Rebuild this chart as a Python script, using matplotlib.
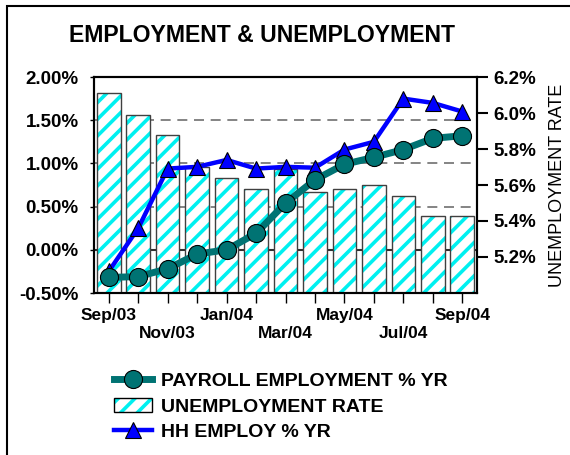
import matplotlib
matplotlib.use('Agg')
import matplotlib.pyplot as plt
import matplotlib.transforms as mtransforms
import numpy as np
from matplotlib.patches import Rectangle

plt.rcParams['font.family'] = ['Liberation Sans', 'DejaVu Sans']
plt.rcParams['hatch.linewidth'] = 2.6

months = ['Sep/03', 'Oct/03', 'Nov/03', 'Dec/03', 'Jan/04', 'Feb/04', 'Mar/04',
          'Apr/04', 'May/04', 'Jun/04', 'Jul/04', 'Aug/04', 'Sep/04']
payroll = [-0.32, -0.31, -0.22, -0.05, 0.00, 0.19, 0.54, 0.81, 0.99, 1.07, 1.16, 1.29, 1.32]
hh_employ = [-0.25, 0.25, 0.94, 0.96, 1.04, 0.94, 0.96, 0.95, 1.16, 1.25, 1.75, 1.70, 1.60]
unemp_rate = [6.11, 5.99, 5.88, 5.70, 5.64, 5.58, 5.69, 5.56, 5.58, 5.60, 5.54, 5.43, 5.43]
left_ticks = [-0.5, 0.0, 0.5, 1.0, 1.5, 2.0]
right_ticks = [5.2, 5.4, 5.6, 5.8, 6.0, 6.2]

teal = '#007373'
x = np.arange(len(months))

fig = plt.figure(figsize=(5.7, 4.55), dpi=100)
ax = fig.add_axes([94 / 570, 1 - 293 / 455, (477 - 94) / 570, (293 - 77) / 455])
ax2 = ax.twinx()
ax.set_zorder(ax2.get_zorder() + 1)
ax.patch.set_visible(False)

# bars on the right (unemployment) axis
ax2.bar(x, unemp_rate, width=0.8, bottom=0, color='white', hatch='//',
        edgecolor='#00f0f0', linewidth=0, zorder=2)
ax2.bar(x, unemp_rate, width=0.8, fill=False, edgecolor='#404040',
        linewidth=1.0, zorder=3)
ax2.set_ylim(5.0, 6.2)
ax2.set_yticks(right_ticks)
ax2.set_yticklabels(['%.1f%%' % t for t in right_ticks])
ax2.set_ylabel('UNEMPLOYMENT RATE', fontsize=13, labelpad=9)

# gridlines at left ticks, behind the bars
blend = mtransforms.blended_transform_factory(ax.transAxes, ax.transData)
for t in left_ticks[2:-1]:
    ax2.plot([0, 1], [t, t], transform=blend, color='#707070', lw=1.2,
             dashes=(6, 4), zorder=1)
ax2.plot([0, 1], [0, 0], transform=blend, color='#303030', lw=1.5, zorder=1)

# lines on the left axis
ax.plot(x, hh_employ, color='#0000ff', lw=3.2, marker='^', markersize=11,
        markerfacecolor='#0000ff', markeredgecolor='black', markeredgewidth=0.8,
        label='HH EMPLOY % YR', zorder=3)
ax.plot(x, payroll, color=teal, lw=5, marker='o', markersize=13,
        markerfacecolor=teal, markeredgecolor='black', markeredgewidth=0.8,
        label='PAYROLL EMPLOYMENT % YR', zorder=4)
ax.set_ylim(-0.5, 2.0)
ax.set_yticks(left_ticks)
ax.set_yticklabels(['%.2f%%' % t for t in left_ticks])
ax.set_xlim(-0.5, len(months) - 0.5)
ax.set_xticks(x)
xlabels = []
for i, m in enumerate(months):
    if i % 4 == 0:
        xlabels.append(m)
    elif i % 4 == 2:
        xlabels.append('\n' + m)
    else:
        xlabels.append('')
ax.set_xticklabels(xlabels)

for a in (ax, ax2):
    for s in a.spines.values():
        s.set_linewidth(1.5)
        s.set_color('black')
ax.tick_params(axis='y', direction='out', length=3, width=1, labelsize=13.5, pad=8)
ax.tick_params(axis='x', direction='out', length=7, width=1, labelsize=12.5, pad=4)
ax2.tick_params(axis='y', direction='out', length=8, width=1.5, labelsize=13.5, pad=4)
for lab in ax.get_yticklabels() + ax.get_xticklabels() + ax2.get_yticklabels():
    lab.set_fontweight('bold')

fig.text(262 / 570, 1 - 36 / 455, 'EMPLOYMENT & UNEMPLOYMENT', ha='center', va='center',
         fontsize=16.6, fontweight='bold')

# legend
h_hh, l_hh = ax.get_legend_handles_labels()
bar_handle = Rectangle((0, 0), 1, 1, facecolor='white', hatch='//', edgecolor='#00f0f0',
                       linewidth=0)
bar_frame = Rectangle((0, 0), 1, 1, fill=False, edgecolor='black', linewidth=1)
leg = fig.legend([h_hh[1], (bar_handle, bar_frame), h_hh[0]],
                 ['PAYROLL EMPLOYMENT % YR', 'UNEMPLOYMENT RATE', 'HH EMPLOY % YR'],
                 loc='upper left', bbox_to_anchor=(96 / 570, 1 - 355 / 455),
                 frameon=False, handlelength=2.0, handletextpad=0.45, labelspacing=0.4,
                 prop={'size': 14, 'weight': 'bold'})

# outer frame
fig.patches.append(Rectangle((7 / 570, -0.1), 1.2, 1 - 6 / 455 + 0.1, transform=fig.transFigure,
                             fill=False, edgecolor='black', linewidth=1.5))

fig.savefig('out.png', dpi=100)
